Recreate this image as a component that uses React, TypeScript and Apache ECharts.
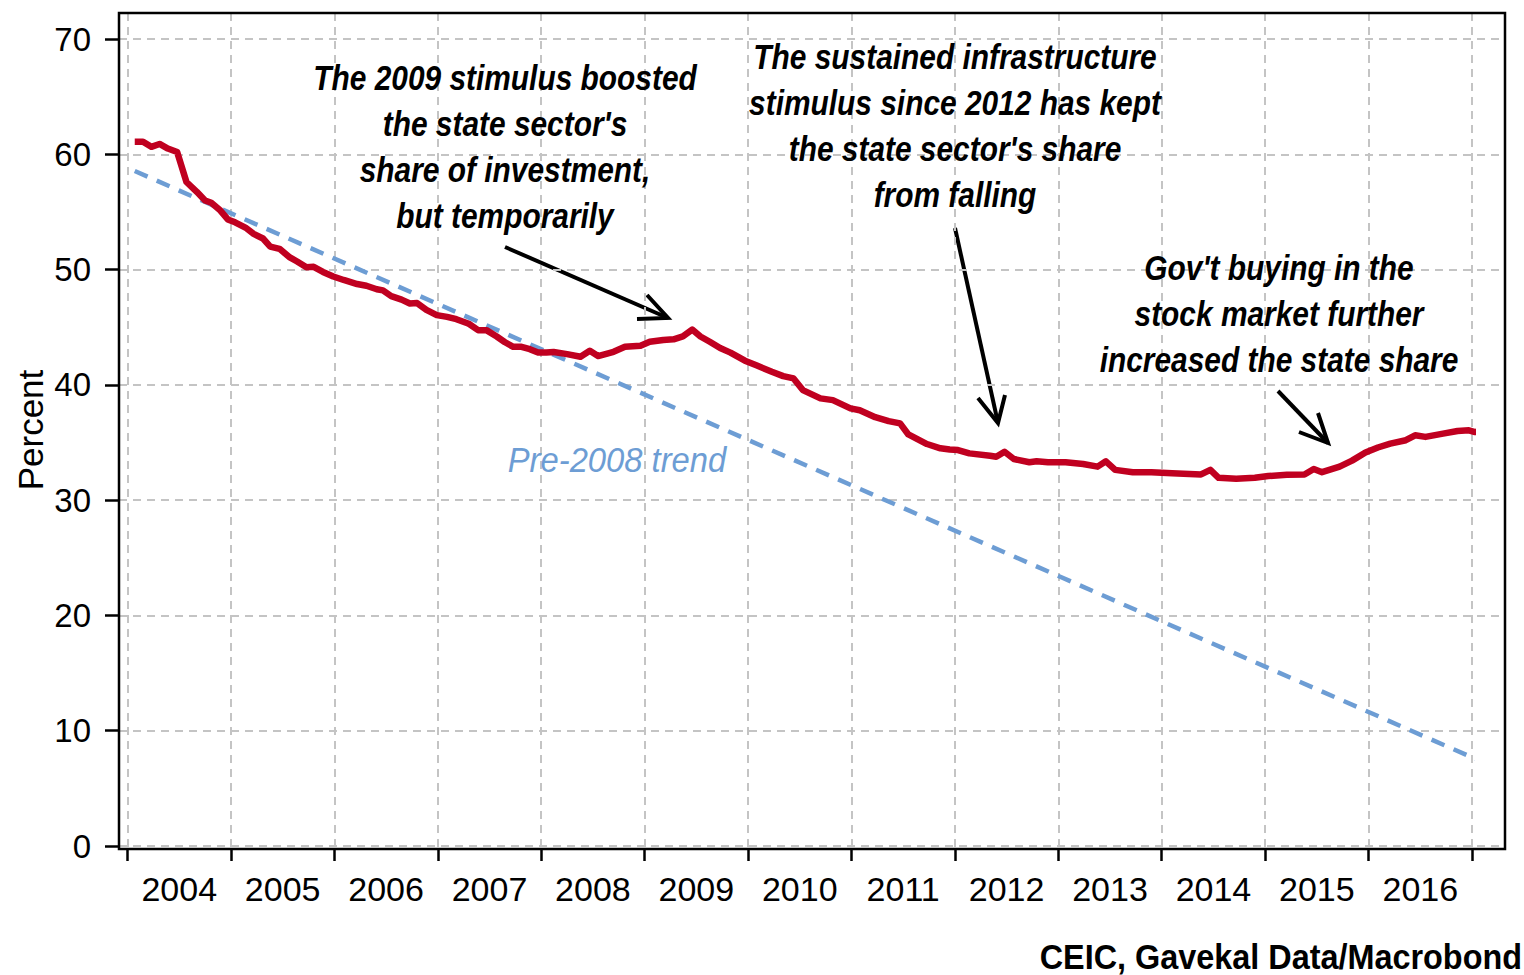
import React, { useEffect, useRef } from "react";
import * as echarts from "echarts";

const FONT = "'Liberation Sans', Arial, sans-serif";

const years = ["2004", "2005", "2006", "2007", "2008", "2009", "2010", "2011", "2012", "2013", "2014", "2015", "2016"];

const lineDates = [
  2004.07, 2004.15, 2004.23, 2004.31, 2004.39, 2004.48, 2004.57, 2004.67, 2004.75, 2004.81, 2004.89, 2004.97,
  2005.04, 2005.14, 2005.22, 2005.31, 2005.38, 2005.47, 2005.57, 2005.64, 2005.73, 2005.8, 2005.89, 2005.99,
  2006.09, 2006.22, 2006.31, 2006.41, 2006.47, 2006.55, 2006.65, 2006.73, 2006.8, 2006.89, 2006.99,
  2007.09, 2007.18, 2007.3, 2007.39, 2007.47, 2007.57, 2007.65, 2007.73, 2007.81, 2007.89, 2007.97,
  2008.05, 2008.12, 2008.25, 2008.38, 2008.47, 2008.55, 2008.7, 2008.81, 2008.96,
  2009.05, 2009.18, 2009.28, 2009.37, 2009.46, 2009.54, 2009.63, 2009.73, 2009.83, 2009.97,
  2010.08, 2010.23, 2010.34, 2010.44, 2010.53, 2010.7, 2010.82, 2010.99,
  2011.08, 2011.23, 2011.36, 2011.47, 2011.55, 2011.73, 2011.86, 2011.95,
  2012.03, 2012.14, 2012.34, 2012.4, 2012.48, 2012.57, 2012.72, 2012.79, 2012.9,
  2013.07, 2013.24, 2013.38, 2013.46, 2013.55, 2013.72, 2013.9,
  2014.1, 2014.38, 2014.47, 2014.55, 2014.72, 2014.9,
  2015.03, 2015.21, 2015.38, 2015.47, 2015.55, 2015.72, 2015.84, 2015.97,
  2016.09, 2016.21, 2016.36, 2016.45, 2016.55, 2016.72, 2016.86, 2016.97,
  2017.03, 2017.1,
];

const lineValues = [
  61.1, 61.1, 60.65, 60.9, 60.5, 60.2, 57.6, 56.75, 56.0, 55.8, 55.2, 54.35,
  54.1, 53.65, 53.1, 52.7, 52.0, 51.8, 51.06, 50.7, 50.2, 50.24, 49.8, 49.4,
  49.1, 48.75, 48.6, 48.3, 48.2, 47.7, 47.4, 47.06, 47.1, 46.5, 46.05,
  45.9, 45.7, 45.3, 44.75, 44.75, 44.2, 43.7, 43.3, 43.3, 43.1, 42.8,
  42.8, 42.85, 42.67, 42.44, 42.96, 42.5, 42.87, 43.3, 43.4,
  43.74, 43.9, 43.95, 44.2, 44.8, 44.2, 43.74, 43.2, 42.8, 42.1,
  41.7, 41.14, 40.76, 40.56, 39.55, 38.83, 38.68, 37.96,
  37.8, 37.2, 36.86, 36.66, 35.7, 34.87, 34.5, 34.4,
  34.35, 34.06, 33.86, 33.77, 34.2, 33.57, 33.29, 33.37, 33.29,
  33.29, 33.14, 32.91, 33.37, 32.63, 32.43, 32.43,
  32.34, 32.23, 32.63, 31.94, 31.86, 31.94,
  32.09, 32.2, 32.23, 32.71, 32.43, 32.91, 33.43, 34.14,
  34.57, 34.91, 35.2, 35.63, 35.49, 35.77, 36.0, 36.06,
  35.91, 35.91,
];

const trendDates = [2004.07, 2017.1];
const trendValues = [58.55, 7.3];

const annotation1 = ["The 2009 stimulus boosted", "the state sector's", "share of investment,", "but temporarily"];
const annotation2 = ["The sustained infrastructure", "stimulus since 2012 has kept", "the state sector's share", "from falling"];
const annotation3 = ["Gov't buying in the", "stock market further", "increased the state share"];
const trendLabel = "Pre-2008 trend";
const yAxisName = "Percent";
const sourceText = "CEIC, Gavekal Data/Macrobond";

const GRID_COLOR = "#c4c4c4";
const RED = "#c00020";
const BLUE = "#6d9dd4";

function arrow(x1: number, y1: number, x2: number, y2: number, a1: number[], a2: number[]) {
  return {
    type: "group",
    z: 50,
    children: [
      { type: "line", shape: { x1, y1, x2, y2 }, style: { stroke: "#000", lineWidth: 4 } },
      {
        type: "polyline",
        shape: { points: [a1, [x2, y2], a2] },
        style: { stroke: "#000", lineWidth: 4, fill: null, lineJoin: "miter" },
      },
    ],
  };
}

function annText(lines: string[], x: number, y: number) {
  return {
    type: "text",
    z: 50,
    x,
    y,
    scaleX: 0.83,
    style: {
      text: lines.join("\n"),
      fill: "#000",
      fontFamily: FONT,
      fontSize: 36,
      fontStyle: "italic",
      fontWeight: "bold",
      lineHeight: 46,
      align: "center",
      verticalAlign: "middle",
    },
  };
}

export default function App() {
  const ref = useRef<HTMLDivElement>(null);
  useEffect(() => {
    if (!ref.current) return;
    const chart = echarts.init(ref.current, undefined, { renderer: "svg" });
    const option: any = {
      animation: false,
      backgroundColor: "#fff",
      textStyle: { fontFamily: FONT },
      grid: [
        { left: 127.5, right: 52, top: 13, bottom: 126 },
        { left: 119, right: 19, top: 39, bottom: 129 },
      ],
      xAxis: [
        { gridIndex: 0, type: "value", min: 2004, max: 2017, show: false },
        {
          gridIndex: 0,
          type: "category",
          data: years,
          boundaryGap: true,
          position: "bottom",
          axisLine: { show: false },
          axisTick: { show: true, interval: 0, length: 12, lineStyle: { color: "#000", width: 2.5 } },
          axisLabel: { interval: 0, fontSize: 34, color: "#000", margin: 23, fontFamily: FONT },
          splitLine: { show: true, interval: 0, lineStyle: { color: GRID_COLOR, width: 2, type: [8, 6] } },
        },
        { gridIndex: 1, type: "value", min: 0, max: 1, show: false },
      ],
      yAxis: [
        { gridIndex: 0, type: "value", min: -0.26, max: 72.26, show: false },
        {
          gridIndex: 1,
          type: "value",
          min: 0,
          max: 70,
          interval: 10,
          axisLine: { show: false },
          axisTick: { show: true, length: 14, lineStyle: { color: "#000", width: 2.5 } },
          axisLabel: { fontSize: 33, color: "#000", margin: 28, fontFamily: FONT },
          splitLine: { show: true, lineStyle: { color: GRID_COLOR, width: 2, type: [8, 6] } },
        },
      ],
      series: [
        {
          name: "Pre-2008 trend",
          type: "line",
          xAxisIndex: 0,
          yAxisIndex: 0,
          data: trendDates.map((d, i) => [d, trendValues[i]]),
          showSymbol: false,
          clip: false,
          lineStyle: { color: BLUE, width: 4.5, type: [14, 10] },
          z: 3,
        },
        {
          name: "State share",
          type: "line",
          xAxisIndex: 0,
          yAxisIndex: 0,
          data: lineDates.map((d, i) => [d, lineValues[i]]),
          showSymbol: false,
          clip: false,
          lineStyle: { color: RED, width: 6.5, join: "round" },
          z: 4,
        },
      ],
      graphic: [
        {
          type: "rect",
          z: 40,
          shape: { x: 119, y: 13, width: 1386, height: 836 },
          style: { fill: null, stroke: "#000", lineWidth: 2.5 },
        },
        annText(annotation1, 505, 146),
        annText(annotation2, 955, 125),
        annText(annotation3, 1279, 313),
        arrow(505, 247, 668, 318, [637, 319], [647, 295]),
        arrow(955, 228, 998, 423, [978, 398], [1005, 395]),
        arrow(1278, 391, 1328, 443, [1299, 432], [1318, 413]),
        {
          type: "text",
          z: 50,
          x: 617,
          y: 459,
          scaleX: 0.91,
          style: {
            text: trendLabel,
            fill: BLUE,
            fontFamily: FONT,
            fontSize: 36,
            fontStyle: "italic",
            align: "center",
            verticalAlign: "middle",
          },
        },
        {
          type: "text",
          z: 50,
          x: 30,
          y: 430,
          rotation: Math.PI / 2,
          style: {
            text: yAxisName,
            fill: "#000",
            fontFamily: FONT,
            fontSize: 35,
            align: "center",
            verticalAlign: "middle",
          },
        },
        {
          type: "text",
          z: 50,
          x: 1522,
          y: 956,
          scaleX: 0.9,
          style: {
            text: sourceText,
            fill: "#000",
            fontFamily: FONT,
            fontSize: 36,
            fontWeight: "bold",
            align: "right",
            verticalAlign: "middle",
          },
        },
      ],
    };
    chart.setOption(option);
    return () => chart.dispose();
  }, []);
  return <div ref={ref} style={{ position: "fixed", left: 0, top: 0, width: 1524, height: 975 }} />;
}
